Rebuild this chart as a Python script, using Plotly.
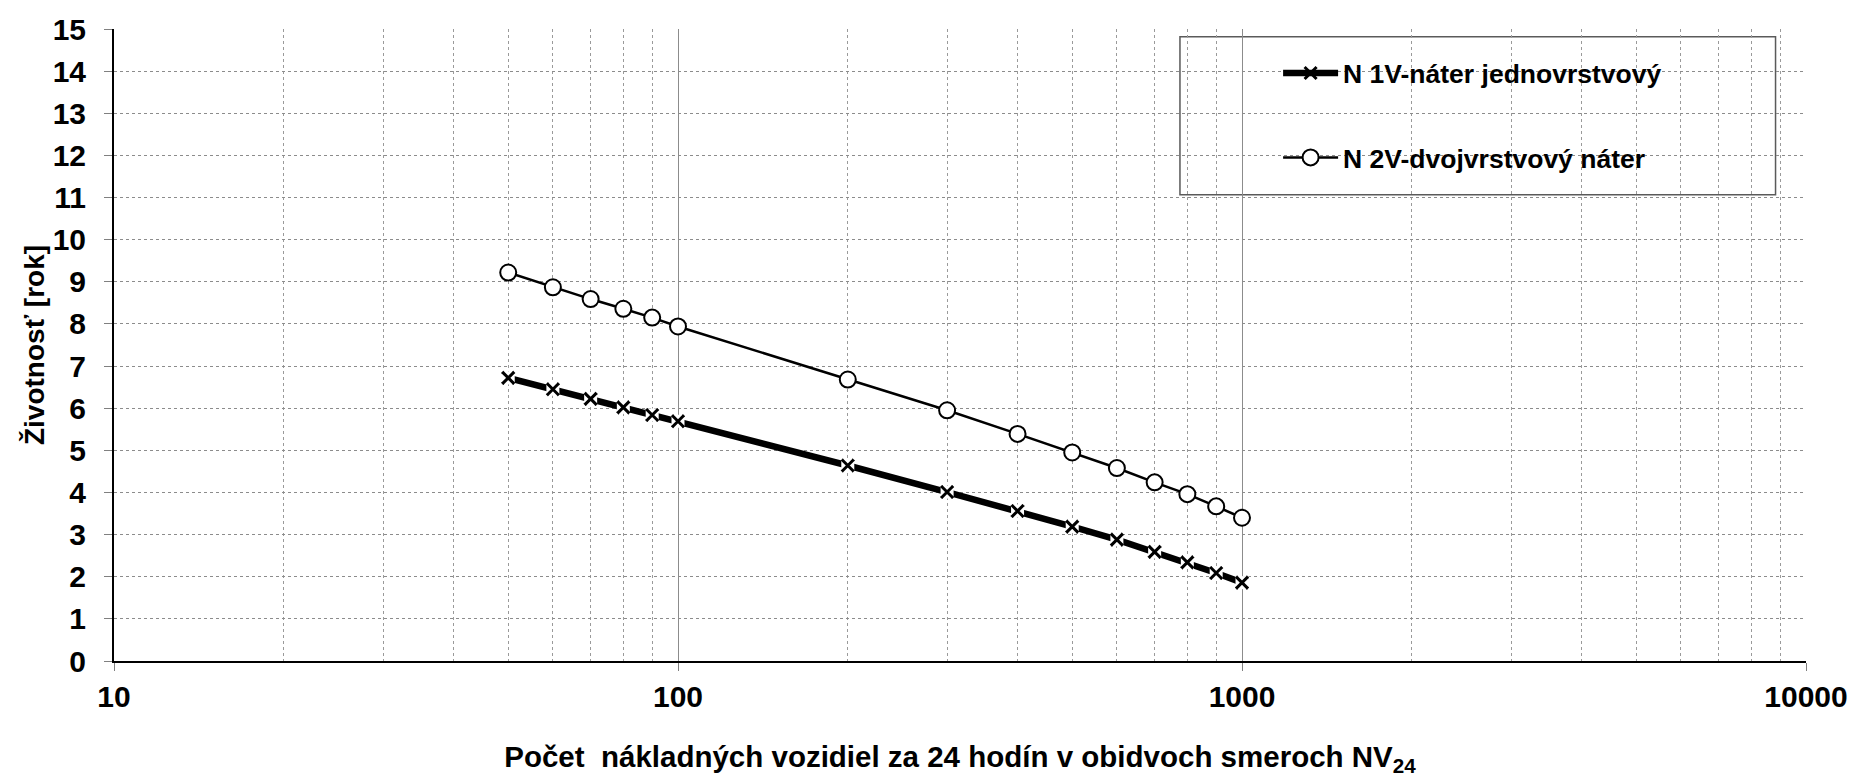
import plotly.graph_objects as go

# ---- data ----
nv = [50, 60, 70, 80, 90, 100, 200, 300, 400, 500, 600, 700, 800, 900, 1000]
n1v = [6.72, 6.45, 6.22, 6.02, 5.84, 5.69, 4.64, 4.01, 3.56, 3.19, 2.88, 2.59, 2.34, 2.09, 1.86]
n2v = [9.22, 8.87, 8.59, 8.36, 8.15, 7.94, 6.68, 5.95, 5.39, 4.95, 4.58, 4.24, 3.96, 3.67, 3.40]
name1 = "N 1V-náter jednovrstvový"
name2 = "N 2V-dvojvrstvový náter"
x_major = [10, 100, 1000, 10000]
x_major_labels = ["10", "100", "1000", "10000"]
x_minor = [20, 30, 40, 50, 60, 70, 80, 90,
           200, 300, 400, 500, 600, 700, 800, 900,
           2000, 3000, 4000, 5000, 6000, 7000, 8000, 9000]
y_ticks = list(range(0, 16))
x_title = "Počet  nákladných vozidiel za 24 hodín v obidvoch smeroch NV<sub>24</sub>"
y_title = "Životnosť [rok]"

FONT = "Liberation Sans, Arial, sans-serif"

fig = go.Figure()

# series 1: thick line with x markers
fig.add_trace(go.Scatter(
    x=nv, y=n1v, name=name1, mode="lines+markers", legendgroup="g1",
    line=dict(color="black", width=6.5),
    marker=dict(symbol="x-thin-open", size=12, color="black",
                line=dict(color="black", width=3)),
))
# white halos around the x markers
fig.add_trace(go.Scatter(
    x=nv, y=n1v, mode="markers", showlegend=False, hoverinfo="skip",
    legendgroup="g1",
    marker=dict(symbol="square", size=13, color="white", line=dict(width=0)),
))
fig.add_trace(go.Scatter(
    x=nv, y=n1v, mode="markers", showlegend=False, hoverinfo="skip",
    legendgroup="g1",
    marker=dict(symbol="x-thin-open", size=12, color="black",
                line=dict(color="black", width=3)),
))

# series 2: thin line with open circles
fig.add_trace(go.Scatter(
    x=nv, y=n2v, name=name2, mode="lines+markers", legendgroup="g2",
    line=dict(color="black", width=2.5),
    marker=dict(symbol="circle", size=16, color="white",
                line=dict(color="black", width=2)),
))

fig.update_layout(
    width=1860, height=780, autosize=False,
    margin=dict(l=114, r=46, t=23, b=109),
    paper_bgcolor="white", plot_bgcolor="white",
    font=dict(family=FONT, color="black", weight="bold"),
    showlegend=True,
    legend=dict(
        x=0.688, y=0.968, xanchor="left", yanchor="top",
        bgcolor="rgba(0,0,0,0)", borderwidth=0,
        font=dict(family=FONT, size=26.5, color="black", weight="bold"),
        itemwidth=55, tracegroupgap=47, traceorder="grouped",
    ),
    shapes=[dict(
        type="rect", xref="paper", yref="paper",
        x0=0.63, x1=0.982, y0=0.7377, y1=0.9877,
        line=dict(color="#5a5a5a", width=1.5), fillcolor="white", layer="between",
    )],
)

fig.update_xaxes(
    type="log", range=[1, 4],
    tickvals=x_major, ticktext=x_major_labels,
    tickfont=dict(family=FONT, size=30, color="black", weight="bold"),
    ticks="outside", ticklen=8, tickcolor="#808080",
    showgrid=True, gridcolor="#8c8c8c", gridwidth=1,
    minor=dict(tickvals=x_minor, showgrid=True, gridcolor="#9a9a9a",
               griddash="dot", gridwidth=1, ticks=""),
    showline=True, linecolor="black", linewidth=2,
    zeroline=False,
    title=dict(text=x_title, standoff=34,
               font=dict(family=FONT, size=29.5, color="black", weight="bold")),
)
fig.update_yaxes(
    range=[0, 15], tickvals=y_ticks,
    tickfont=dict(family=FONT, size=30, color="black", weight="bold"),
    ticks="outside", ticklen=8, tickcolor="#808080", ticklabelstandoff=12,
    showgrid=True, gridcolor="#8c8c8c", griddash="dot", gridwidth=1,
    showline=True, linecolor="black", linewidth=2,
    zeroline=False,
    title=dict(text=y_title, standoff=0,
               font=dict(family=FONT, size=28, color="black", weight="bold")),
)

fig.write_html("out.html")
